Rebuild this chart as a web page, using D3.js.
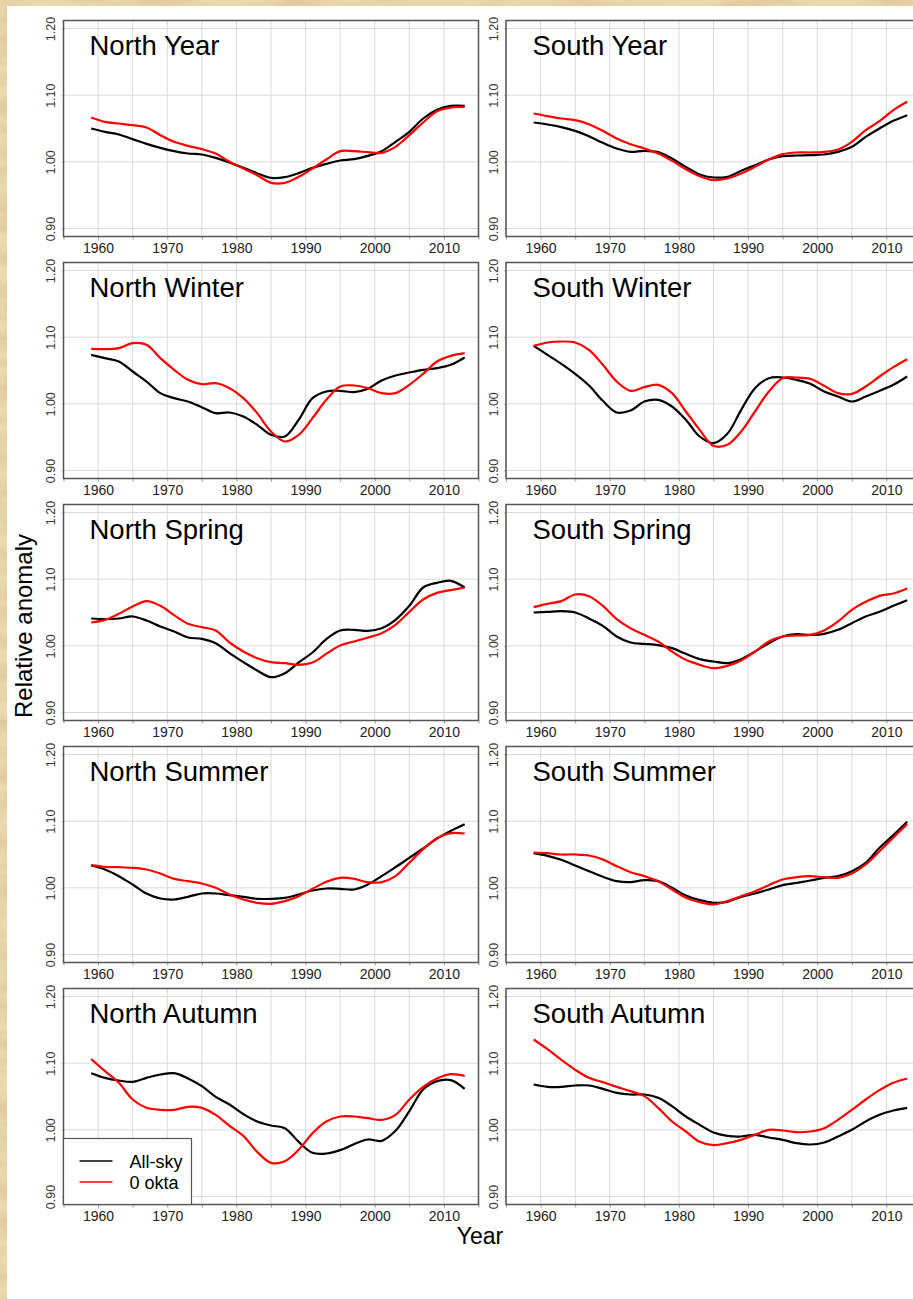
<!DOCTYPE html>
<html>
<head>
<meta charset="utf-8">
<script src="https://cdn.jsdelivr.net/npm/d3@7"></script>
<style>
  body { margin: 0; background: #e8d3a6; }
  svg { display: block; font-family: "Liberation Sans", Arial, sans-serif; }
</style>
</head>
<body>
<svg id="chart"></svg>
<script>
let width = 913;
let height = 1299;

// years (every other year)
let years = d3.range(1959, 2014, 2);

// black = All-sky, red = 0 okta
let northYearAll   = [1.050,1.045,1.041,1.034,1.027,1.021,1.016,1.0125,1.011,1.006,0.999,0.991,0.983,0.976,0.977,0.983,0.991,0.997,1.002,1.004,1.009,1.016,1.030,1.045,1.065,1.078,1.084,1.084];
let northYearClear = [1.0665,1.060,1.0575,1.055,1.0515,1.040,1.030,1.024,1.019,1.0125,1.000,0.990,0.980,0.9685,0.9685,0.9775,0.990,1.0035,1.016,1.016,1.0145,1.0135,1.0225,1.040,1.059,1.076,1.0815,1.0825];
let southYearAll   = [1.059,1.056,1.052,1.0465,1.0385,1.0285,1.020,1.015,1.0165,1.0145,1.005,0.9925,0.981,0.9765,0.9775,0.9865,0.995,1.0035,1.0085,1.0095,1.010,1.011,1.015,1.0225,1.0375,1.050,1.0615,1.070];
let southYearClear = [1.0725,1.0685,1.065,1.0625,1.0565,1.0465,1.035,1.0265,1.020,1.0125,1.0015,0.989,0.9785,0.9725,0.975,0.9825,0.9925,1.0035,1.0115,1.014,1.014,1.015,1.0185,1.030,1.0475,1.061,1.0775,1.090];

let northWinterAll   = [1.0735,1.0685,1.0635,1.0485,1.0335,1.016,1.0085,1.0035,0.995,0.986,0.987,0.981,0.9685,0.9535,0.951,0.976,1.0085,1.0185,1.0195,1.0175,1.0225,1.035,1.0425,1.047,1.051,1.0535,1.0585,1.0695];
let northWinterClear = [1.0825,1.082,1.0835,1.091,1.0885,1.0685,1.051,1.036,1.0295,1.031,1.0235,1.0085,0.986,0.9585,0.9435,0.9535,0.9785,1.006,1.026,1.0275,1.0235,1.016,1.016,1.0285,1.045,1.0635,1.072,1.076];
let southWinterAll   = [1.087,1.0735,1.060,1.045,1.0275,1.0045,0.987,0.990,1.0035,1.006,0.996,0.976,0.951,0.941,0.955,0.991,1.0235,1.0385,1.0395,1.036,1.030,1.0185,1.011,1.0035,1.011,1.0195,1.0285,1.041];
let southWinterClear = [1.087,1.092,1.0935,1.092,1.081,1.0585,1.0335,1.0195,1.025,1.0285,1.016,0.9885,0.961,0.937,0.9385,0.9585,0.9885,1.0185,1.0385,1.0395,1.0375,1.027,1.016,1.015,1.026,1.041,1.055,1.067];

let northSpringAll   = [1.041,1.040,1.041,1.044,1.038,1.029,1.0215,1.0125,1.0105,1.004,0.989,0.9755,0.963,0.953,0.959,0.975,0.990,1.010,1.023,1.024,1.0225,1.0265,1.039,1.060,1.0875,1.0945,1.0975,1.0875];
let northSpringClear = [1.035,1.039,1.048,1.059,1.067,1.060,1.046,1.033,1.028,1.023,1.005,0.9915,0.9815,0.9755,0.974,0.9715,0.975,0.988,1.0005,1.0065,1.0125,1.019,1.0315,1.051,1.0695,1.0795,1.0835,1.0875];
let southSpringAll   = [1.050,1.051,1.052,1.050,1.041,1.030,1.014,1.005,1.003,1.001,0.9965,0.988,0.980,0.9765,0.974,0.980,0.9915,1.004,1.014,1.0175,1.0165,1.018,1.024,1.034,1.044,1.051,1.060,1.0685];
let southSpringClear = [1.058,1.063,1.067,1.077,1.0745,1.060,1.040,1.0265,1.0165,1.0065,0.9915,0.979,0.9715,0.9665,0.970,0.978,0.9915,1.0065,1.014,1.0155,1.0165,1.023,1.0365,1.054,1.066,1.075,1.0785,1.086];

let northSummerAll   = [1.0335,1.0275,1.0175,1.005,0.9915,0.984,0.9825,0.9865,0.9915,0.9915,0.989,0.9865,0.9835,0.9835,0.985,0.990,0.996,0.999,0.9985,0.9975,1.005,1.0175,1.031,1.045,1.059,1.074,1.0855,1.0955];
let northSummerClear = [1.034,1.0315,1.031,1.030,1.0275,1.0215,1.0135,1.010,1.0065,1.000,0.990,0.9825,0.9775,0.976,0.980,0.9875,0.9985,1.009,1.015,1.0135,1.0085,1.0085,1.0175,1.0375,1.058,1.0745,1.082,1.0815];
let southSummerAll   = [1.052,1.048,1.042,1.0335,1.025,1.0165,1.010,1.0085,1.0115,1.010,1.000,0.9885,0.9815,0.9775,0.979,0.9865,0.9915,0.9975,1.004,1.0075,1.011,1.015,1.0175,1.025,1.0375,1.060,1.079,1.099];
let southSummerClear = [1.053,1.052,1.050,1.050,1.0485,1.0425,1.0325,1.0235,1.0175,1.010,0.9975,0.985,0.9785,0.975,0.980,0.9875,0.995,1.004,1.0125,1.016,1.0175,1.016,1.015,1.0215,1.035,1.055,1.0755,1.0955];

let northAutumnAll   = [1.085,1.078,1.074,1.072,1.078,1.083,1.085,1.077,1.0655,1.0495,1.038,1.0235,1.0125,1.0065,1.0025,0.982,0.9655,0.9645,0.9695,0.9785,0.9855,0.9835,0.9985,1.028,1.0605,1.073,1.0745,1.0615];
let northAutumnClear = [1.106,1.088,1.0705,1.0455,1.033,1.030,1.030,1.0345,1.033,1.0225,1.006,0.991,0.967,0.9505,0.953,0.970,0.995,1.0125,1.020,1.020,1.0175,1.015,1.0225,1.0455,1.0645,1.077,1.0835,1.081];
let southAutumnAll   = [1.068,1.0645,1.0645,1.0665,1.0665,1.0615,1.0555,1.053,1.053,1.048,1.0355,1.020,1.0075,0.996,0.991,0.990,0.9925,0.9885,0.985,0.980,0.978,0.981,0.990,1.000,1.0125,1.0225,1.029,1.033];
let southAutumnClear = [1.1355,1.121,1.105,1.090,1.078,1.0715,1.0645,1.058,1.0505,1.033,1.0125,0.9975,0.982,0.977,0.980,0.985,0.9925,1.000,0.999,0.9965,0.9975,1.0025,1.015,1.030,1.0455,1.0595,1.0705,1.077];

let panels = [
  {title: 'North Year',   all: northYearAll,   clear: northYearClear,   row: 0, col: 0},
  {title: 'South Year',   all: southYearAll,   clear: southYearClear,   row: 0, col: 1},
  {title: 'North Winter', all: northWinterAll, clear: northWinterClear, row: 1, col: 0},
  {title: 'South Winter', all: southWinterAll, clear: southWinterClear, row: 1, col: 1},
  {title: 'North Spring', all: northSpringAll, clear: northSpringClear, row: 2, col: 0},
  {title: 'South Spring', all: southSpringAll, clear: southSpringClear, row: 2, col: 1},
  {title: 'North Summer', all: northSummerAll, clear: northSummerClear, row: 3, col: 0},
  {title: 'South Summer', all: southSummerAll, clear: southSummerClear, row: 3, col: 1},
  {title: 'North Autumn', all: northAutumnAll, clear: northAutumnClear, row: 4, col: 0},
  {title: 'South Autumn', all: southAutumnAll, clear: southAutumnClear, row: 4, col: 1}
];

let yTicks = [0.90, 1.00, 1.10, 1.20];
let seriesNames = ['All-sky', '0 okta'];
let seriesColors = ['#000000', '#ff0000'];

let boxW = 415;
let boxH = 216;
let colX = [63.5, 506];
let rowTop = r => 20.5 + r * 242;

let x = d3.scaleLinear().domain([1955, 2015]).range([0, boxW]);
let y = d3.scaleLinear().domain([0.888, 1.212]).range([boxH, 0]);

let line = d3.line()
  .x(d => x(d[0]))
  .y(d => y(d[1]))
  .curve(d3.curveCatmullRom.alpha(0.5));

let svg = d3.select('#chart')
  .attr('width', width)
  .attr('height', height);

// parchment background
let defs = svg.append('defs');
let filt = defs.append('filter').attr('id', 'paper').attr('x', 0).attr('y', 0).attr('width', '100%').attr('height', '100%');
filt.append('feTurbulence').attr('type', 'fractalNoise').attr('baseFrequency', '0.015 0.06').attr('numOctaves', 4).attr('seed', 3);
filt.append('feColorMatrix').attr('values', '0 0 0 0 0.6  0 0 0 0 0.45  0 0 0 0 0.22  1.6 0 0 0 -0.6');

svg.append('rect').attr('width', width).attr('height', height).attr('fill', '#ecd8ae');
svg.append('rect').attr('width', width).attr('height', height).attr('filter', 'url(#paper)').attr('opacity', 0.6);

// white figure area
svg.append('rect')
  .attr('x', 7).attr('y', 6)
  .attr('width', width - 7).attr('height', height - 6)
  .attr('fill', 'white');

panels.forEach(p => {
  let g = svg.append('g')
    .attr('transform', `translate(${colX[p.col]}, ${rowTop(p.row)})`);

  // grid
  g.selectAll('.vgrid')
    .data(d3.range(1955, 2016, 5))
    .enter()
    .append('line')
      .attr('x1', d => x(d)).attr('x2', d => x(d))
      .attr('y1', 0).attr('y2', boxH)
      .attr('stroke', '#d9d9d9')
      .attr('stroke-width', 1);

  g.selectAll('.hgrid')
    .data(yTicks)
    .enter()
    .append('line')
      .attr('x1', 0).attr('x2', boxW)
      .attr('y1', d => y(d)).attr('y2', d => y(d))
      .attr('stroke', '#d9d9d9')
      .attr('stroke-width', 1);

  // x axis
  let xAxis = g.append('g')
    .attr('transform', `translate(0, ${boxH})`)
    .call(d3.axisBottom(x)
      .tickValues(d3.range(1955, 2016, 5))
      .tickSize(3)
      .tickPadding(4)
      .tickFormat(d => d % 10 === 0 ? d : ''));
  xAxis.select('.domain').remove();
  xAxis.selectAll('line').attr('stroke', '#999');
  xAxis.selectAll('text').attr('font-size', 14).attr('fill', '#222').attr('font-family', null);

  // y axis, labels parallel to axis
  let yAxis = g.append('g')
    .call(d3.axisLeft(y)
      .tickValues(yTicks)
      .tickSize(2)
      .tickFormat(d3.format('.2f')));
  yAxis.select('.domain').remove();
  yAxis.selectAll('line').attr('stroke', '#bbb');
  yAxis.selectAll('text')
    .attr('x', 0)
    .attr('dy', 0)
    .attr('text-anchor', 'middle')
    .attr('transform', 'translate(-8.5, 0) rotate(-90)')
    .attr('font-size', 12.5)
    .attr('fill', '#333')
    .attr('font-family', null);

  // series
  [p.all, p.clear].forEach((vals, i) => {
    g.append('path')
      .datum(years.map((yr, k) => [yr, vals[k]]))
      .attr('fill', 'none')
      .attr('stroke', seriesColors[i])
      .attr('stroke-width', 2.2)
      .attr('stroke-linejoin', 'round')
      .attr('d', line);
  });

  // box
  g.append('rect')
    .attr('width', boxW).attr('height', boxH)
    .attr('fill', 'none')
    .attr('stroke', '#555')
    .attr('stroke-width', 1.5);

  g.append('text')
    .attr('x', p.col === 0 ? 26 : 26.5)
    .attr('y', 34.5)
    .attr('font-size', 27.5)
    .attr('fill', '#000')
    .text(p.title);
});

// legend in the bottom-left panel
let leg = svg.append('g')
  .attr('transform', `translate(${colX[0]}, ${rowTop(4) + boxH - 66})`);
leg.append('rect')
  .attr('width', 128).attr('height', 66)
  .attr('fill', 'white')
  .attr('stroke', '#555')
  .attr('stroke-width', 1.2);
seriesNames.forEach((name, i) => {
  leg.append('line')
    .attr('x1', 16).attr('x2', 49)
    .attr('y1', 22.5 + i * 21).attr('y2', 22.5 + i * 21)
    .attr('stroke', seriesColors[i])
    .attr('stroke-width', 1.4);
  leg.append('text')
    .attr('x', 66)
    .attr('y', 29 + i * 21.5)
    .attr('font-size', 18)
    .text(name);
});

// shared axis titles
svg.append('text')
  .attr('transform', 'translate(32, 626) rotate(-90)')
  .attr('text-anchor', 'middle')
  .attr('font-size', 24)
  .text('Relative anomaly');

svg.append('text')
  .attr('x', 480)
  .attr('y', 1243.5)
  .attr('text-anchor', 'middle')
  .attr('font-size', 23)
  .text('Year');
</script>
</body>
</html>
